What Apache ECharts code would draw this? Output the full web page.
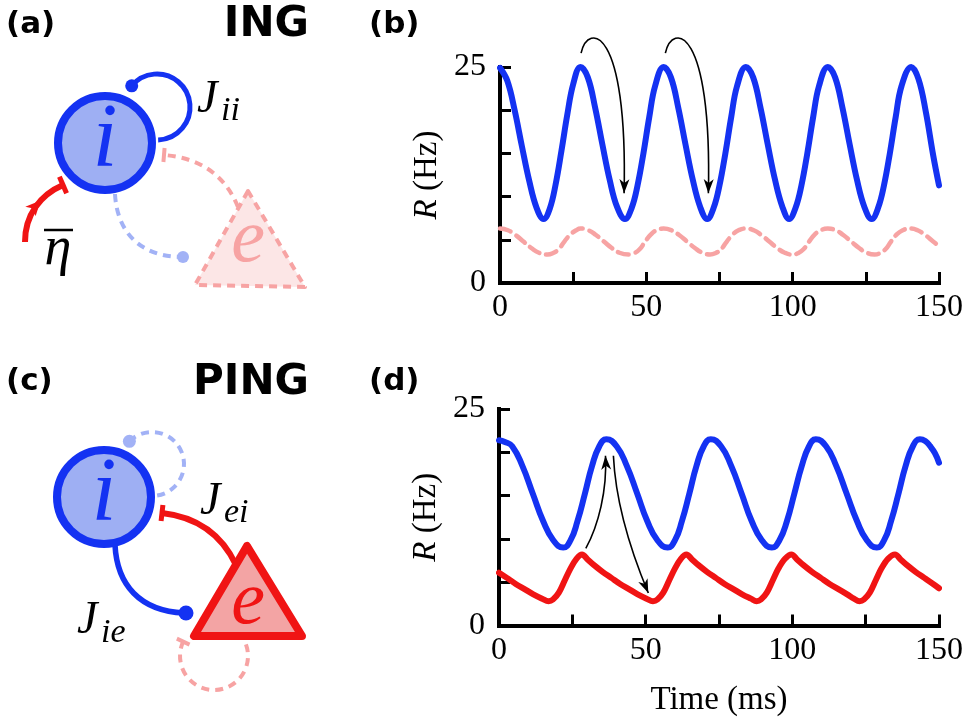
<!DOCTYPE html>
<html>
<head>
<meta charset="utf-8">
<script src="https://cdn.jsdelivr.net/npm/echarts@6/dist/echarts.min.js"></script>
<style>
html, body { margin: 0; padding: 0; background: #fff; }
#main { width: 966px; height: 721px; }
</style>
</head>
<body>
<div id="main"></div>
<script>
// (b) ING: firing rates [time ms, rate Hz]
var ingInh = [[0,24.9],[2.5,23.4],[5,20.0],[7.5,15.8],[10,11.8],[12.5,8.7],[14.9,7.4],
  [17,8.6],[19,11.4],[21,15.3],[23,19.5],[25,23.0],[27.5,25.0],
  [30,23.8],[32.5,20.3],[35,16.0],[37.5,11.9],[40,8.8],[42.7,7.4],
  [45,8.7],[47,11.3],[49,15.0],[51,19.2],[53,22.8],[55.9,25.0],
  [58.4,23.8],[60.9,20.3],[63.4,16.0],[65.9,11.9],[68.4,8.8],[70.8,7.4],
  [73,8.7],[75,11.3],[77,15.0],[79,19.2],[81,22.8],[84,25.0],
  [86.5,23.8],[89,20.3],[91.5,16.0],[94,11.9],[96.5,8.8],[98.8,7.4],
  [101,8.7],[103,11.3],[105,15.0],[107,19.2],[109,22.8],[112,25.0],
  [114.5,23.8],[117,20.3],[119.5,16.0],[122,11.9],[124.5,8.8],[127,7.4],
  [129.2,8.7],[131.2,11.3],[133.2,15.0],[135.2,19.2],[137.2,22.8],[140.5,25.0],
  [143,23.6],[145.5,19.8],[148,14.8],[150,11.3]];
var ingExc = [[0,6.3],[2.7,6.1],[5.3,5.55],[8,4.8],[10.7,4.05],[13.3,3.5],[16.3,3.3],
  [18,3.45],[20,3.9],[22,4.8],[24,5.6],[26,6.1],[27.5,6.3],
  [30.2,6.1],[32.8,5.55],[35.5,4.8],[38.2,4.05],[40.8,3.5],[44,3.3],
  [45.8,3.45],[47.7,3.9],[49.6,4.8],[51.5,5.6],[53.5,6.1],[55.9,6.3],
  [58.6,6.1],[61.2,5.55],[63.9,4.8],[66.6,4.05],[69.2,3.5],[71.8,3.3],
  [73.6,3.45],[75.5,3.9],[77.5,4.8],[79.5,5.6],[81.5,6.1],[84,6.3],
  [86.7,6.1],[89.3,5.55],[92,4.8],[94.7,4.05],[97.3,3.5],[100,3.3],
  [101.8,3.45],[103.7,3.9],[105.6,4.8],[107.5,5.6],[109.6,6.1],[112,6.3],
  [114.7,6.1],[117.3,5.55],[120,4.8],[122.7,4.05],[125.3,3.5],[128,3.3],
  [129.8,3.45],[131.7,3.9],[133.6,4.8],[135.5,5.6],[137.6,6.1],[140,6.3],
  [142.7,6.1],[145.3,5.55],[148,4.8],[150,4.3]];

// (d) PING
var pingInh = [[0,21.4],[2,21.2],[4.5,20.7],[8,18.4],[11.5,15.25],[15,12.1],[18.5,9.85],[21.9,9.0],
  [24.4,9.85],[26.8,12.1],[29.3,15.25],[31.7,18.4],[34.2,20.7],[36.6,21.5],
  [40.1,20.7],[43.6,18.4],[47.1,15.25],[50.5,12.1],[54,9.85],[57.5,9.0],
  [60,9.85],[62.4,12.1],[64.9,15.25],[67.3,18.4],[69.8,20.7],[72.2,21.5],
  [75.7,20.7],[79.2,18.4],[82.7,15.25],[86.1,12.1],[89.6,9.85],[93,9.0],
  [95.6,9.85],[98.2,12.1],[100.7,15.25],[103.2,18.4],[105.7,20.7],[108,21.5],
  [111.5,20.7],[115,18.4],[118.5,15.25],[122,12.1],[125.4,9.85],[128.8,9.0],
  [131.3,9.85],[133.7,12.1],[136.2,15.25],[138.6,18.4],[141.1,20.7],[143.5,21.5],
  [145.3,21.3],[147,20.7],[148.6,19.9],[150,18.8]];
var pingExc = [[0,6.1],[2.7,5.5],[5.7,4.8],[8.7,4.2],[11.7,3.6],[14.7,3.1],[16.9,2.8],
  [18.4,3.0],[20.4,3.8],[22.4,5.2],[24.4,6.6],[26.4,7.7],[28.3,8.2],
  [30.3,7.6],[32.3,7.0],[35.3,6.2],[38.3,5.5],[41.3,4.8],[44.3,4.2],[47.3,3.6],[50.3,3.1],[52.5,2.8],
  [54,3.0],[56,3.8],[58,5.2],[60,6.6],[62,7.7],[63.9,8.2],
  [65.9,7.6],[67.9,7.0],[70.9,6.2],[73.9,5.5],[76.9,4.8],[79.9,4.2],[82.9,3.6],[85.9,3.1],[87.8,2.8],
  [89.3,3.0],[91.3,3.8],[93.3,5.2],[95.3,6.6],[97.5,7.7],[99.7,8.2],
  [101.7,7.6],[103.7,7.0],[106.7,6.2],[109.7,5.5],[112.7,4.8],[115.7,4.2],[118.7,3.6],[121,3.1],[122.9,2.8],
  [124.4,3.0],[126.4,3.8],[128.4,5.2],[130.4,6.6],[132.6,7.7],[135,8.2],
  [137,7.6],[139,7.0],[142,6.2],[145,5.5],[148,4.8],[150,4.3]];

var xTicks = [0, 50, 100, 150];
var yTicks = [0, 25];

// curved annotation arrows, in data units: start, control 1, control 2, tip
var ingArrows = [
  [[27.7, 26.6], [30.1, 30.2], [43.7, 29.8], [42.4, 10.4]],
  [[56.5, 26.6], [58.9, 30.2], [72.5, 29.8], [71.2, 10.4]]
];
var pingArrows = [
  [[29.6, 8.9], [33.9, 11.6], [36.9, 15.6], [36.3, 19.6]],
  [[39.0, 19.6], [39.7, 14.5], [44.8, 8.7], [50.9, 3.75]]
];

var BLUE = '#1432f2', LBLUE = '#a2b2f6', RED = '#f01414', PINK = '#f7a3a3';
var SERIF = 'Liberation Serif', SANS = 'DejaVu Sans';

var chart = echarts.init(document.getElementById('main'));

function mkX(gi, name) {
  return {
    type: 'value', gridIndex: gi, min: 0, max: 150, interval: 25,
    axisLine: { show: true, onZero: false, lineStyle: { color: '#000', width: 4, cap: 'square' } },
    axisTick: { show: true, inside: true, length: 11, lineStyle: { color: '#000', width: 3 } },
    axisLabel: { margin: 9, fontFamily: SERIF, fontSize: 32, color: '#000',
      formatter: function (v) { return xTicks.indexOf(v) >= 0 ? String(v) : ''; } },
    splitLine: { show: false },
    name: name, nameLocation: 'middle', nameGap: 58,
    nameTextStyle: { fontFamily: SERIF, fontSize: 33, color: '#000' }
  };
}
function mkY(gi) {
  return {
    type: 'value', gridIndex: gi, min: 0, max: 25, interval: 5,
    axisLine: { show: true, onZero: false, lineStyle: { color: '#000', width: 4, cap: 'square' } },
    axisTick: { show: true, inside: true, length: 11, lineStyle: { color: '#000', width: 3 } },
    axisLabel: { margin: 14, fontFamily: SERIF, fontSize: 32, color: '#000',
      formatter: function (v) { return yTicks.indexOf(v) >= 0 ? String(v) : ''; } },
    splitLine: { show: false },
    name: '{r|R} (Hz)', nameLocation: 'middle', nameGap: 56, nameRotate: 90,
    nameTextStyle: { fontFamily: SERIF, fontSize: 33, color: '#000',
      rich: { r: { fontFamily: SERIF, fontSize: 33, fontStyle: 'italic', color: '#000' } } }
  };
}
function mkLine(gi, data, color, width, smooth, dash) {
  return {
    type: 'line', xAxisIndex: gi, yAxisIndex: gi, data: data,
    symbol: 'none', showSymbol: false, smooth: smooth, clip: false,
    lineStyle: { color: color, width: width, type: dash || 'solid', cap: 'round', join: 'round' }
  };
}

chart.setOption({
  animation: false,
  backgroundColor: '#fff',
  grid: [
    { left: 500, top: 67, width: 439, height: 216, outerBoundsMode: 'none' },
    { left: 499, top: 409, width: 440, height: 216.5, outerBoundsMode: 'none' }
  ],
  xAxis: [mkX(0, ''), mkX(1, 'Time (ms)')],
  yAxis: [mkY(0), mkY(1)],
  series: [
    mkLine(0, ingExc, PINK, 4.5, 0.5, [11, 7]),
    mkLine(0, ingInh, BLUE, 6, 0.4),
    mkLine(1, pingExc, RED, 6, 0.35),
    mkLine(1, pingInh, BLUE, 6, 0.5)
  ]
});

// ---- drawing helpers ----
function bez(p, t) {
  var u = 1 - t;
  return [u*u*u*p[0][0] + 3*u*u*t*p[1][0] + 3*u*t*t*p[2][0] + t*t*t*p[3][0],
          u*u*u*p[0][1] + 3*u*u*t*p[1][1] + 3*u*t*t*p[2][1] + t*t*t*p[3][1]];
}
function bezDir(p, t) {
  var u = 1 - t;
  var dx = u*u*(p[1][0]-p[0][0]) + 2*u*t*(p[2][0]-p[1][0]) + t*t*(p[3][0]-p[2][0]);
  var dy = u*u*(p[1][1]-p[0][1]) + 2*u*t*(p[2][1]-p[1][1]) + t*t*(p[3][1]-p[2][1]);
  var l = Math.sqrt(dx*dx + dy*dy);
  return [dx/l, dy/l];
}
function curve(p, color, w, dash, z) {
  return { type: 'bezierCurve', z: z || 1,
    shape: { x1: p[0][0], y1: p[0][1], cpx1: p[1][0], cpy1: p[1][1], cpx2: p[2][0], cpy2: p[2][1], x2: p[3][0], y2: p[3][1] },
    style: { stroke: color, lineWidth: w, fill: 'none', lineDash: dash || null } };
}
function head(tip, d, len, half, color, z) {
  var bx = tip[0] - d[0]*len, by = tip[1] - d[1]*len;
  var nx = -d[1], ny = d[0];
  return { type: 'polygon', z: z || 1,
    shape: { points: [tip, [bx + nx*half, by + ny*half], [tip[0] - d[0]*len*0.72, tip[1] - d[1]*len*0.72], [bx - nx*half, by - ny*half]] },
    style: { fill: color, stroke: null } };
}
function tbar(end, d, half, color, w) {
  var nx = -d[1], ny = d[0];
  return { type: 'line', z: 3,
    shape: { x1: end[0] + nx*half, y1: end[1] + ny*half, x2: end[0] - nx*half, y2: end[1] - ny*half },
    style: { stroke: color, lineWidth: w } };
}
function txt(s, x, y, size, color, opts) {
  opts = opts || {};
  return { type: 'text', z: 5,
    style: { text: s, x: x, y: y, fill: color,
      font: (opts.style || 'normal') + ' ' + (opts.weight || 'normal') + ' ' + size + 'px "' + (opts.family || SERIF) + '"',
      align: opts.align || 'left', textAlign: opts.align || 'left',
      verticalAlign: 'middle', textVerticalAlign: 'middle' } };
}
function deg(a) { return a * Math.PI / 180; }

var g = [];

// ---- panel labels ----
g.push(txt('(a)', 6, 25, 31, '#000', { family: SANS, weight: 'bold' }));
g.push(txt('(b)', 369, 25, 31, '#000', { family: SANS, weight: 'bold' }));
g.push(txt('(c)', 6, 382, 31, '#000', { family: SANS, weight: 'bold' }));
g.push(txt('(d)', 369, 382, 31, '#000', { family: SANS, weight: 'bold' }));
g.push(txt('ING', 309, 25, 42, '#000', { family: SANS, weight: 'bold', align: 'right' }));
g.push(txt('PING', 309, 383, 42, '#000', { family: SANS, weight: 'bold', align: 'right' }));

// ---- (a) ING diagram ----
var eToI = [[238, 207], [225, 175], [200, 158], [164, 155]];
g.push(curve(eToI, PINK, 4, [8, 6]));
g.push(tbar(eToI[3], bezDir(eToI, 1), 7, PINK, 4));
var iToE = [[115, 194], [117, 232], [140, 256], [180, 257]];
g.push(curve(iToE, LBLUE, 4, [8, 6]));
g.push({ type: 'circle', z: 2, shape: { cx: 183, cy: 257, r: 6 }, style: { fill: LBLUE } });
g.push({ type: 'polygon', z: 2, shape: { points: [[248, 191], [195, 285], [305, 287]] },
  style: { fill: '#fce6e6', stroke: PINK, lineWidth: 4, lineDash: [8, 6], lineJoin: 'round' } });
g.push(txt('e', 248, 241, 76, PINK, { style: 'italic', align: 'center' }));
var drive = [[25, 242], [25, 215], [40, 195], [63, 185]];
g.push(curve(drive, RED, 6));
g.push(head(bez(drive, 0.62), bezDir(drive, 0.62), 15, 7, RED, 3));
g.push(tbar(drive[3], bezDir(drive, 1), 9, RED, 5));
g.push(txt('η', 58, 250, 54, '#000', { style: 'italic', align: 'center' }));
g.push({ type: 'line', z: 5, shape: { x1: 44, y1: 230, x2: 73, y2: 230 }, style: { stroke: '#000', lineWidth: 2.5 } });
g.push({ type: 'arc', z: 2, shape: { cx: 157, cy: 107, r: 33, startAngle: deg(-140), endAngle: deg(88), clockwise: true },
  style: { stroke: BLUE, lineWidth: 5, fill: 'none' } });
g.push({ type: 'circle', z: 2, shape: { cx: 157 + 33*Math.cos(deg(-140)), cy: 107 + 33*Math.sin(deg(-140)), r: 6.5 }, style: { fill: BLUE } });
g.push({ type: 'circle', z: 3, shape: { cx: 105, cy: 143, r: 47 }, style: { fill: '#9eaff3', stroke: BLUE, lineWidth: 8 } });
g.push(txt('i', 105, 142, 90, BLUE, { style: 'italic', align: 'center' }));
g.push(txt('J', 197, 100, 46, '#000', { style: 'italic' }));
g.push(txt('ii', 221, 111, 34, '#000', { style: 'italic' }));

// ---- (c) PING diagram ----
g.push({ type: 'arc', z: 1, shape: { cx: 152, cy: 464, r: 32, startAngle: deg(-135), endAngle: deg(85), clockwise: true },
  style: { stroke: LBLUE, lineWidth: 4, lineDash: [8, 6], fill: 'none' } });
g.push({ type: 'circle', z: 2, shape: { cx: 152 + 32*Math.cos(deg(-135)), cy: 464 + 32*Math.sin(deg(-135)), r: 6.5 }, style: { fill: LBLUE } });
var eiCurve = [[236, 565], [222, 535], [197, 517], [162, 513]];
g.push(curve(eiCurve, RED, 6));
g.push(tbar(eiCurve[3], bezDir(eiCurve, 1), 8, RED, 5));
var ieCurve = [[115, 545], [117, 585], [140, 611], [184, 613]];
g.push(curve(ieCurve, BLUE, 5.5));
g.push({ type: 'circle', z: 2, shape: { cx: 186, cy: 613, r: 7.5 }, style: { fill: BLUE } });
var loopEnd = deg(205);
g.push({ type: 'arc', z: 1, shape: { cx: 214, cy: 656, r: 34, startAngle: deg(-20), endAngle: loopEnd, clockwise: true },
  style: { stroke: PINK, lineWidth: 4, lineDash: [8, 6], fill: 'none' } });
var le = [214 + 34*Math.cos(loopEnd), 656 + 34*Math.sin(loopEnd)];
g.push(tbar(le, [-Math.sin(loopEnd), Math.cos(loopEnd)], 7, PINK, 4));
g.push({ type: 'polygon', z: 2, shape: { points: [[247, 546], [194, 636], [302, 636]] },
  style: { fill: '#f3a4a4', stroke: RED, lineWidth: 8, lineJoin: 'round' } });
g.push(txt('e', 248, 603, 76, RED, { style: 'italic', align: 'center' }));
g.push({ type: 'circle', z: 3, shape: { cx: 104, cy: 497, r: 47 }, style: { fill: '#9eaff3', stroke: BLUE, lineWidth: 8 } });
g.push(txt('i', 104, 496, 90, BLUE, { style: 'italic', align: 'center' }));
g.push(txt('J', 200, 502, 46, '#000', { style: 'italic' }));
g.push(txt('ei', 224, 513, 34, '#000', { style: 'italic' }));
g.push(txt('J', 77, 621, 46, '#000', { style: 'italic' }));
g.push(txt('ie', 101, 633, 34, '#000', { style: 'italic' }));

// ---- annotation arrows on the rate plots ----
function chartArrow(gi, a) {
  var p = a.map(function (d) { return chart.convertToPixel({ gridIndex: gi }, d); });
  var d = bezDir(p, 1);
  g.push(curve(p, '#000', 1.6, null, 10));
  g.push(head(p[3], d, 14, 5, '#000', 11));
}
ingArrows.forEach(function (a) { chartArrow(0, a); });
pingArrows.forEach(function (a) { chartArrow(1, a); });

chart.setOption({ graphic: { elements: g } });
</script>
</body>
</html>
